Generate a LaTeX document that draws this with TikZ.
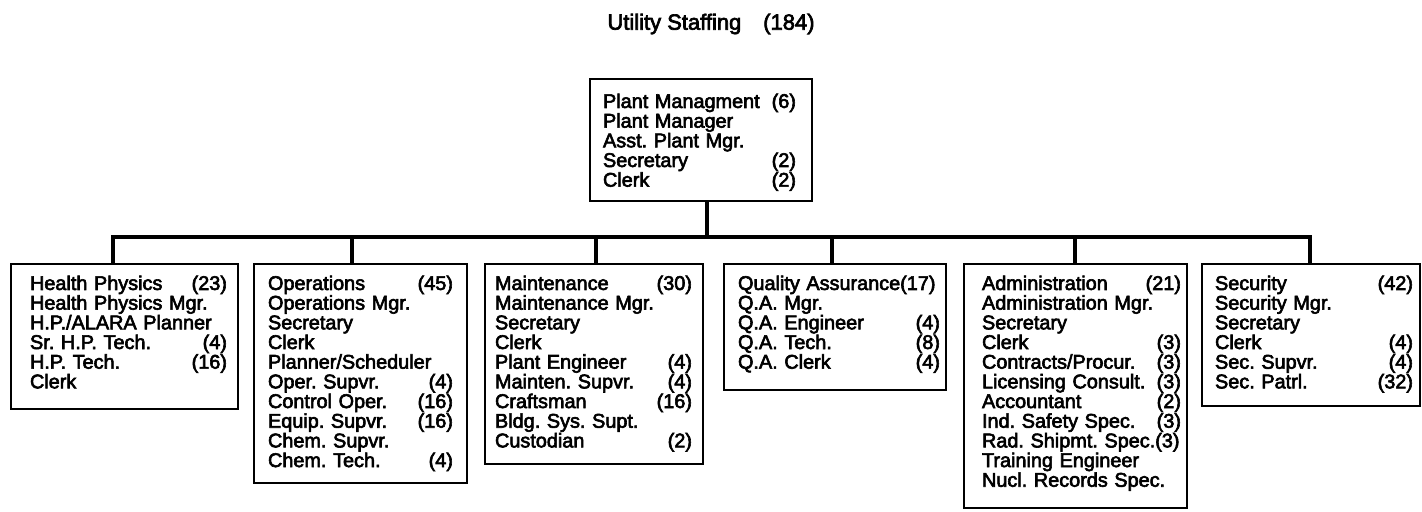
\documentclass[tikz,border=0pt]{standalone}
\usepackage{fontspec}
\setmainfont{Liberation Sans}
\newfontfamily\chartfont{Liberation Sans}[FakeBold=3]
\usepackage{tikz}
\usetikzlibrary{calc,positioning}
\tikzset{
  unitbox/.style={draw,line width=1.1pt,rectangle,anchor=north,inner xsep=0pt,inner ysep=0pt,
    font=\chartfont\frenchspacing\fontsize{11.3pt}{11.2pt}\selectfont,text height=0.52cm},
  boxsize/.style n args={4}{text width=#1,text depth=#2,execute at begin node={\leftskip=#3\rightskip=#4}},
  link/.style={line width=1.8pt},
  busbar/.style={line width=2.4pt,line cap=rect}
}

\begin{document}
\begin{tikzpicture}[x=0.02cm,y=-0.02cm]
  \useasboundingbox (0,0) rectangle (1422,511);
  \node[font=\chartfont\fontsize{12.5pt}{14pt}\selectfont] (title) at (711,24) {Utility Staffing\quad(184)};
  \node[unitbox,boxsize={4.44cm}{1.86cm}{0.26cm}{0.32cm},text height=0.58cm] (pm) at (701,78)
    {Plant Managment\hfill(6)\\Plant Manager\\Asst. Plant Mgr.\\Secretary\hfill(2)\\Clerk\hfill(2)};
  \node[unitbox,boxsize={4.54cm}{2.38cm}{0.38cm}{0.22cm}] (hp) at (124.5,263)
    {Health Physics\hfill(23)\\Health Physics Mgr.\\H.P./ALARA Planner\\Sr. H.P. Tech.\hfill(4)\\H.P. Tech.\hfill(16)\\Clerk};
  \node[unitbox,boxsize={4.26cm}{3.86cm}{0.28cm}{0.28cm}] (ops) at (360.5,263)
    {Operations\hfill(45)\\Operations Mgr.\\Secretary\\Clerk\\Planner/Scheduler\\Oper. Supvr.\hfill(4)\\Control Oper.\hfill(16)\\Equip. Supvr.\hfill(16)\\Chem. Supvr.\\Chem. Tech.\hfill(4)};
  \node[unitbox,boxsize={4.36cm}{3.48cm}{0.20cm}{0.22cm}] (mnt) at (594,263)
    {Maintenance\hfill(30)\\Maintenance Mgr.\\Secretary\\Clerk\\Plant Engineer\hfill(4)\\Mainten. Supvr.\hfill(4)\\Craftsman\hfill(16)\\Bldg. Sys. Supt.\\Custodian\hfill(2)};
  \node[unitbox,boxsize={4.44cm}{2.00cm}{0.28cm}{0.12cm}] (qa) at (835,263)
    {Quality Assurance(17)\\Q.A. Mgr.\\Q.A. Engineer\hfill(4)\\Q.A. Tech.\hfill(8)\\Q.A. Clerk\hfill(4)};
  \node[unitbox,boxsize={4.46cm}{4.36cm}{0.36cm}{0.12cm}] (adm) at (1075.5,263)
    {Administration\hfill(21)\\Administration Mgr.\\Secretary\\Clerk\hfill(3)\\Contracts/Procur.\hfill(3)\\Licensing Consult.\hfill(3)\\Accountant\hfill(2)\\Ind. Safety Spec.\hfill(3)\\\mbox{Rad. Shipmt. Spec.(3)}\\Training Engineer\\Nucl. Records Spec.};
  \node[unitbox,boxsize={4.36cm}{2.32cm}{0.26cm}{0.14cm}] (sec) at (1311,263)
    {Security\hfill(42)\\Security Mgr.\\Secretary\\Clerk\hfill(4)\\Sec. Supvr.\hfill(4)\\Sec. Patrl.\hfill(32)};
  \coordinate (hub) at (707,237);
  \coordinate (j1) at (113,237);
  \coordinate (j2) at (352,237);
  \coordinate (j3) at (596,237);
  \coordinate (j4) at (832,237);
  \coordinate (j5) at (1075,237);
  \coordinate (j6) at (1310,237);
  \draw[link] (hub |- pm.south) -- (hub);
  \draw[busbar] (j1) -- (j6);
  \foreach \j/\b in {j1/hp,j2/ops,j3/mnt,j4/qa,j5/adm,j6/sec}
    \draw[link] (\j) -- (\j |- \b.north);
\end{tikzpicture}
\end{document}
